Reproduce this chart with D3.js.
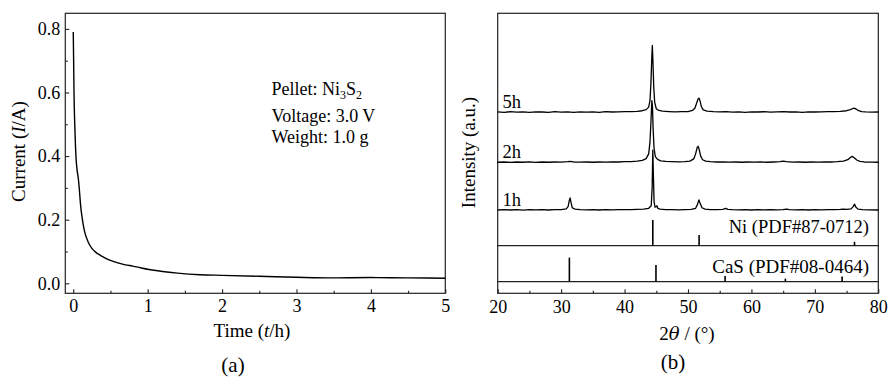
<!DOCTYPE html>
<html><head><meta charset="utf-8">
<script src="https://cdn.jsdelivr.net/npm/d3@7"></script>
<style>
body{margin:0;background:#fff;}
text{font-family:"Liberation Serif","Times New Roman",serif;fill:#000;}
</style></head>
<body><svg id="c" width="888" height="378"></svg>
<script>
// ---------- Panel (a) data: current vs time ----------
const timeH = [0,0.005,0.01,0.02,0.03,0.04,0.05,0.07,0.08,0.09,0.1,0.12,0.13,0.15,0.2,0.25,0.3,0.35,0.4,0.45,0.5,0.6,0.7,0.8,0.9,1.0,1.2,1.4,1.7,2.0,2.5,3.0,3.5,4.0,4.5,5.0];
const currentA = [0.79,0.70,0.60,0.50,0.43,0.385,0.36,0.325,0.3,0.27,0.242,0.205,0.19,0.165,0.13,0.11,0.098,0.09,0.083,0.077,0.072,0.064,0.058,0.054,0.049,0.044,0.037,0.032,0.027,0.025,0.022,0.019,0.017,0.018,0.017,0.016];
const xTicksA = [0,1,2,3,4,5];
const yTicksA = [0,0.2,0.4,0.6,0.8];
const annotA = ["Pellet: Ni3S2","Voltage: 3.0 V","Weight: 1.0 g"];

// ---------- Panel (b) data: XRD patterns ----------
const sampleLabels = ["5h","2h","1h"];
const sampleOffsets = [64.7,46.8,29.75];
const xrd5h = [[20,0.1],[21,-0.1],[22,0.15],[23,0],[24,0.1],[25,-0.1],[26,0.1],[27,0.05],[28,-0.05],[29,0.15],[30,0],[31,0.1],[32,-0.1],[33,0.1],[34,0],[35,0.1],[36,-0.05],[37,0.15],[38,0.05],[39,0.1],[40,0.2],[41,0.15],[42,0.3],[42.8,0.5],[43.4,0.9],[43.8,1.8],[44.0,4],[44.15,10],[44.3,20],[44.38,23.8],[44.46,19],[44.6,9],[44.75,3.5],[45.0,1.2],[45.4,0.6],[46,0.35],[47,0.2],[48,0.1],[49,0.2],[50,0.2],[50.7,0.6],[51.1,1.5],[51.4,3.5],[51.6,4.8],[51.75,5.0],[51.9,4],[52.1,2],[52.4,0.8],[53,0.35],[54,0.15],[55,0.1],[56,0.2],[57,0],[58,0.1],[59,-0.05],[60,0.1],[61,0.05],[62,0.15],[63,0],[64,0.1],[65,0.2],[66,0.05],[67,0.1],[68,-0.05],[69,0.1],[70,0.05],[71,0.1],[72,0.15],[73,0.2],[74,0.3],[75,0.5],[75.6,0.9],[76.0,1.3],[76.2,1.45],[76.5,1.1],[76.9,0.5],[77.4,0.2],[78,0.1],[79,0],[80,0.05]];
const xrd2h = [[20,0],[21,0.1],[22,-0.05],[23,0.1],[24,0],[25,0.15],[26,-0.05],[27,0.1],[28,0],[29,0.1],[30,0.05],[31,0.2],[31.4,0.3],[32,0.1],[33,0.05],[34,0.1],[35,0],[36,0.1],[37,0.05],[38,0.15],[39,0.1],[40,0.2],[41,0.25],[42,0.4],[42.8,0.7],[43.4,1.3],[43.8,3],[44.0,7],[44.15,14],[44.3,22],[44.4,20],[44.5,12],[44.65,5],[44.85,2],[45.2,1],[45.7,0.5],[46.5,0.3],[47.5,0.2],[48.5,0.15],[49.5,0.2],[50.3,0.4],[50.9,1.2],[51.2,3],[51.45,5.3],[51.6,5.7],[51.8,4.2],[52.0,2.2],[52.3,0.9],[52.8,0.4],[53.5,0.2],[54.5,0.1],[55.5,0.15],[56.5,0.05],[57.5,0.1],[58.5,0],[59.5,0.1],[60.5,0.05],[61.5,0.1],[62.5,0],[63.5,0.1],[64.5,0.2],[65,0.4],[65.5,0.2],[66.5,0.05],[67.5,0.1],[68.5,0],[69.5,0.1],[70.5,0.05],[71.5,0.15],[72.5,0.1],[73.5,0.2],[74.5,0.4],[75.2,0.9],[75.6,1.7],[75.9,2.1],[76.2,1.6],[76.6,0.8],[77.1,0.3],[77.8,0.1],[79,0.05],[80,0]];
const xrd1h = [[20,0],[21,0.1],[22,0],[23,0.1],[24,-0.05],[25,0.1],[26,0.05],[27,0.1],[28,0],[29,0.1],[30,0.15],[30.8,0.4],[31.1,1.2],[31.3,3.5],[31.42,4.3],[31.55,2.8],[31.75,0.8],[32.2,0.3],[33,0.1],[34,0.05],[35,0.1],[36,0],[37,0.1],[38,0.05],[39,0.1],[40,0.1],[41,0.15],[42,0.2],[43,0.3],[43.8,0.6],[44.2,1.5],[44.35,8],[44.45,21.4],[44.55,12],[44.65,3],[44.8,1],[45.0,1.2],[45.1,1.5],[45.25,0.6],[45.6,0.3],[46.5,0.15],[47.5,0.1],[48.5,0.05],[49.5,0.1],[50.5,0.2],[51.2,0.6],[51.5,2],[51.72,3.6],[51.9,2.5],[52.2,0.8],[52.7,0.3],[53.5,0.15],[54.5,0.1],[55.5,0.2],[55.95,0.6],[56.3,0.2],[57,0.1],[58,0.05],[59,0.1],[60,0],[61,0.1],[62,0.05],[63,0.1],[64,0.05],[65,0.15],[65.5,0.3],[66,0.1],[67,0.05],[68,0.1],[69,0],[70,0.1],[71,0.05],[72,0.1],[73,0.15],[74,0.2],[74.5,0.35],[75,0.2],[75.7,0.4],[76.05,1.2],[76.25,2.1],[76.45,1.1],[76.8,0.3],[77.5,0.1],[78.5,0.05],[80,0]];
const xrdSeries = [xrd5h, xrd2h, xrd1h];
const refLabels = ["Ni (PDF#87-0712)","CaS (PDF#08-0464)"];
const refBase = [17, 4.14];
const niSticks = [[44.45,9.2],[51.75,3.8],[76.25,1.4]];
const casSticks = [[31.3,8.6],[44.95,6],[55.85,2],[65.35,1.1],[74.3,1.9]];
const xTicksB = [20,30,40,50,60,70,80];

// ---------- drawing ----------
const svg = d3.select("#c");
const FONT = "Liberation Serif";
const FS_TICK = 18, FS_TITLE = 19;

function styleAxis(g){
  g.attr("font-family",FONT).attr("font-size",FS_TICK);
  g.select(".domain").remove();
  g.selectAll("line").attr("stroke","#222").attr("stroke-width",1.1);
  g.selectAll("text").attr("font-size",FS_TICK).attr("font-family",FONT).attr("fill","#000");
}

// Panel (a)
const A = {l:65.3, r:445.3, t:13.3, b:293.3};
const xA = d3.scaleLinear().domain([-0.107,5]).range([A.l,A.r]);
const yA = d3.scaleLinear().domain([-0.0315,0.849]).range([A.b,A.t]);
const gA = svg.append("g");
gA.append("rect").attr("x",A.l).attr("y",A.t).attr("width",A.r-A.l).attr("height",A.b-A.t)
  .attr("fill","none").attr("stroke","#222").attr("stroke-width",1.2);

styleAxis(gA.append("g").attr("transform",`translate(0,${A.b})`)
  .call(d3.axisBottom(xA).tickValues(xTicksA).tickFormat(d3.format("d")).tickSizeInner(-4).tickSizeOuter(0).tickPadding(6)));
styleAxis(gA.append("g").attr("transform",`translate(0,${A.b})`)
  .call(d3.axisBottom(xA).tickValues(d3.range(0.5,5,1)).tickFormat("").tickSizeInner(-2.5).tickSizeOuter(0)));
styleAxis(gA.append("g").attr("transform",`translate(${A.l},0)`)
  .call(d3.axisLeft(yA).tickValues(yTicksA).tickFormat(d3.format(".1f")).tickSizeInner(-4).tickSizeOuter(0).tickPadding(5)));
styleAxis(gA.append("g").attr("transform",`translate(${A.l},0)`)
  .call(d3.axisLeft(yA).tickValues([0.1,0.3,0.5,0.7]).tickFormat("").tickSizeInner(-2.5).tickSizeOuter(0)));

const lineA = d3.line().x((d,i)=>xA(timeH[i])).y(d=>yA(d)).curve(d3.curveMonotoneX);
gA.append("path").datum(currentA).attr("d",lineA).attr("fill","none").attr("stroke","#000").attr("stroke-width",1.4);

// annotation
const ann = gA.append("g").attr("font-size",18);
const t1 = ann.append("text").attr("x",271.5).attr("y",95);
t1.append("tspan").text("Pellet: Ni");
t1.append("tspan").attr("font-size",12).attr("dy",4).text("3");
t1.append("tspan").attr("dy",-4).text("S");
t1.append("tspan").attr("font-size",12).attr("dy",4).text("2");
ann.append("text").attr("x",271.5).attr("y",121.5).text(annotA[1]);
ann.append("text").attr("x",271.5).attr("y",142.7).text(annotA[2]);

// titles a
const tx = gA.append("text").attr("x",252).attr("y",336.5).attr("text-anchor","middle").attr("font-size",FS_TITLE);
tx.append("tspan").text("Time (");
tx.append("tspan").attr("font-style","italic").text("t");
tx.append("tspan").text("/h)");
const ty = gA.append("text").attr("transform","translate(24.5,151.5) rotate(-90)").attr("text-anchor","middle").attr("font-size",FS_TITLE);
ty.append("tspan").text("Current (");
ty.append("tspan").attr("font-style","italic").text("I");
ty.append("tspan").text("/A)");
gA.append("text").attr("x",233).attr("y",372).attr("text-anchor","middle").attr("font-size",21).text("(a)");

// Panel (b)
const B = {l:497.7, r:878.3, t:13.3, b:293.3};
const xB = d3.scaleLinear().domain([20,80]).range([B.l,B.r]);
const yB = d3.scaleLinear().domain([0,100]).range([B.b,B.t]);
const gB = svg.append("g");
gB.append("rect").attr("x",B.l).attr("y",B.t).attr("width",B.r-B.l).attr("height",B.b-B.t)
  .attr("fill","none").attr("stroke","#222").attr("stroke-width",1.2);
refBase.forEach(v=>{
  gB.append("line").attr("x1",B.l).attr("x2",B.r).attr("y1",yB(v)).attr("y2",yB(v)).attr("stroke","#222").attr("stroke-width",1.2);
});
styleAxis(gB.append("g").attr("transform",`translate(0,${B.b})`)
  .call(d3.axisBottom(xB).tickValues(xTicksB).tickFormat(d3.format("d")).tickSizeInner(-4).tickSizeOuter(0).tickPadding(7)));
styleAxis(gB.append("g").attr("transform",`translate(0,${B.b})`)
  .call(d3.axisBottom(xB).tickValues(d3.range(25,80,10)).tickFormat("").tickSizeInner(-2.5).tickSizeOuter(0)));

const lineB = d3.line().x(d=>xB(d[0])).y(d=>yB(d[1]));
xrdSeries.forEach((s,i)=>{
  gB.append("path").datum(s.map(p=>[p[0],p[1]+sampleOffsets[i]])).attr("d",lineB)
    .attr("fill","none").attr("stroke","#000").attr("stroke-width",1.3).attr("stroke-linejoin","round");
  gB.append("text").attr("x",502.5).attr("y",yB(sampleOffsets[i])-4.5).attr("font-size",18.5).text(sampleLabels[i]);
});
[niSticks,casSticks].forEach((sticks,i)=>{
  gB.selectAll(null).data(sticks).enter().append("line")
    .attr("x1",d=>xB(d[0])).attr("x2",d=>xB(d[0]))
    .attr("y1",yB(refBase[i])).attr("y2",d=>yB(refBase[i]+d[1]))
    .attr("stroke","#000").attr("stroke-width",1.6);
});
gB.append("text").attr("x",869).attr("y",233).attr("text-anchor","end").attr("font-size",18.5).text(refLabels[0]);
gB.append("text").attr("x",869).attr("y",273).attr("text-anchor","end").attr("font-size",19).text(refLabels[1]);

const txb = gB.append("text").attr("x",687).attr("y",340).attr("text-anchor","middle").attr("font-size",FS_TITLE);
txb.append("tspan").text("2");
txb.append("tspan").attr("font-style","italic").attr("font-family","DejaVu Serif").attr("font-size",18).text("θ");
txb.append("tspan").text(" / (°)");
gB.append("text").attr("transform","translate(474.5,152.5) rotate(-90)").attr("text-anchor","middle").attr("font-size",FS_TITLE).text("Intensity (a.u.)");
gB.append("text").attr("x",673).attr("y",369).attr("text-anchor","middle").attr("font-size",21).text("(b)");
</script></body></html>
